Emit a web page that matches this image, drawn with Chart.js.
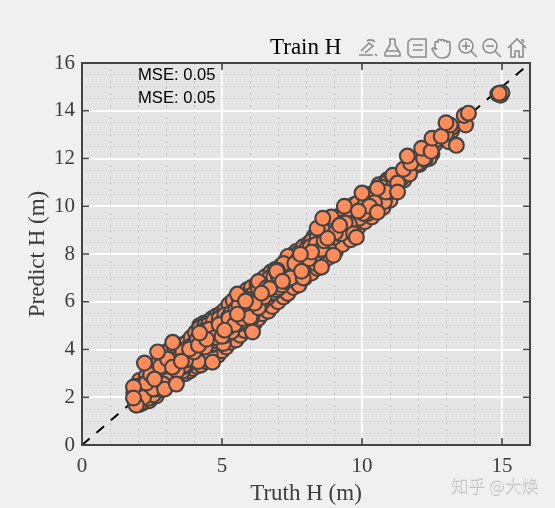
<!DOCTYPE html>
<html>
<head>
<meta charset="utf-8">
<style>
  html, body { margin: 0; padding: 0; background: #f0f0f0; }
  #wrap { position: relative; width: 555px; height: 508px; overflow: hidden; }
  #wrap canvas { position: absolute; left: 0; top: 0; }
  #tools { position: absolute; left: 356px; top: 36px; }
  #mark { position: absolute; left: 451px; top: 472px; font: 17px "Noto Sans CJK SC", sans-serif; font-weight: 300; color: #e2e2e2; text-shadow: 0.6px 0.6px 0 #b4b4b4; white-space: nowrap; }
</style>
</head>
<body>
<div id="wrap">
  <canvas id="chart" width="555" height="508"></canvas>
  <svg id="tools" width="172" height="24" fill="none" stroke="#8c8c8c" stroke-width="1.6">
    <path d="M3 19h14M5 15l8-8 4 3-8 7M11 5c3-2 6-1 8 1M19 18l2 2"/>
    <path d="M33 3h6M34 3v6l-5 8v3h15v-3l-5-8V3M30 15h13"/>
    <path d="M55 3h15v18H55l-3-3V6zM57 9h10M57 14h10"/>
    <path d="M79 13V7a1.5 1.5 0 0 1 3 0V5a1.5 1.5 0 0 1 3 0v0a1.5 1.5 0 0 1 3 0v1a1.5 1.5 0 0 1 3 0v1a1.5 1.5 0 0 1 3 0v7c0 5-3 8-8 8s-6-2-10-9c1-2 3-1 5 0z"/>
    <circle cx="110" cy="10" r="7"/><path d="M115 15l6 6M106 10h8M110 6v8"/>
    <circle cx="134" cy="10" r="7"/><path d="M139 15l6 6M130 10h8"/>
    <path d="M152 12l9-9 9 9M155 10v11h4v-6h4v6h4V10M165 4h2v3"/>
  </svg>
  <div id="mark">知乎 @大焕</div>
</div>
<script src="https://cdn.jsdelivr.net/npm/chart.js@4"></script>
<script>
const titleText = 'Train H';
const xTitle = 'Truth H (m)';
const yTitle = 'Predict H (m)';
const mseLabels = ['MSE: 0.05', 'MSE: 0.05'];
const xMajorTicks = [0, 5, 10, 15];
const yMajorTicks = [0, 2, 4, 6, 8, 10, 12, 14, 16];

const identityX = [0, 16];
const identityY = [0, 16];

// lower layers first, the markers seen whole come last
const truthH = [
  2.05, 2.15, 2.3, 2.4, 2.45, 2.5, 2.6, 2.65, 2.75, 2.8, 2.85, 2.95, 3.0, 3.1, 3.15, 3.25, 3.3, 3.4, 3.45, 3.5,
  3.6, 3.7, 3.75, 3.85, 3.9, 3.95, 4.05, 4.1, 4.2, 4.25, 4.35, 4.4, 4.5, 4.55, 4.65, 4.7, 4.8, 4.85, 4.95, 5.0,
  5.1, 5.15, 5.25, 5.3, 5.4, 5.5, 5.6, 5.65, 5.75, 5.8, 5.9, 6.0, 6.05, 6.15, 6.25, 6.3, 6.4, 6.45, 6.55, 6.65,
  6.75, 6.8, 6.9, 7.0, 7.1, 7.2, 7.3, 7.35, 7.5, 7.55, 7.65, 7.75, 7.9, 7.95, 8.1, 8.2, 8.3, 8.4, 8.5, 8.6,
  8.75, 8.8, 8.95, 9.05, 9.2, 9.3, 9.45, 9.6, 9.7, 9.85, 10.0, 10.1, 10.3, 10.35, 10.6, 10.75, 10.9, 11.0, 11.3, 11.5,
  12.05, 12.35, 12.5, 13.05, 13.2,
  1.85, 1.9, 1.95, 2.0, 2.05, 2.1, 2.15, 2.2, 2.3, 2.35, 2.4, 2.45, 2.5, 2.55, 2.6, 2.65, 2.7, 2.75, 2.8, 2.85,
  2.9, 3.0, 3.05, 3.1, 3.15, 3.2, 3.3, 3.35, 3.4, 3.45, 3.5, 3.55, 3.6, 3.65, 3.7, 3.75, 3.8, 3.85, 3.9, 3.95,
  4.0, 4.05, 4.1, 4.12, 4.18, 4.2, 4.25, 4.3, 4.32, 4.38, 4.4, 4.45, 4.5, 4.52, 4.58, 4.6, 4.65, 4.7, 4.75, 4.8,
  4.85, 4.9, 4.95, 5.0, 5.05, 5.1, 5.15, 5.2, 5.25, 5.3, 5.35, 5.4, 5.45, 5.5, 5.55, 5.6, 5.65, 5.7, 5.75, 5.8,
  5.85, 5.9, 5.95, 6.0, 6.05, 6.1, 6.15, 6.2, 6.25, 6.3, 6.35, 6.4, 6.45, 6.5, 6.55, 6.6, 6.65, 6.7, 6.75, 6.8,
  6.85, 6.9, 6.95, 7.0, 7.05, 7.1, 7.15, 7.2, 7.25, 7.3, 7.35, 7.4, 7.45, 7.5, 7.55, 7.6, 7.65, 7.7, 7.75, 7.8,
  7.9, 8.0, 8.05, 8.1, 8.2, 8.3, 8.35, 8.4, 8.5, 8.6, 8.65, 8.7, 8.8, 8.9, 9.0, 9.1, 9.2, 9.3, 9.4, 9.5,
  9.6, 9.7, 9.8, 9.9, 10.1, 10.2, 10.4, 10.5, 10.65, 10.7, 10.8, 10.9, 11.0, 11.1, 11.2, 11.4, 11.6, 11.9, 12.0, 12.3,
  12.4, 12.6, 13.1, 13.2, 14.85, 14.95, 15.0,
  1.9, 2.2, 2.35, 2.55, 2.75, 3.05, 3.3, 3.65, 3.9, 4.15, 4.38, 4.62, 4.66, 4.85, 5.2, 5.35, 5.7, 5.95, 6.3, 6.6,
  6.85, 7.35, 7.7, 8.15, 8.35, 8.6, 8.9, 9.25, 9.55, 10.15, 10.7, 11.15, 11.7, 12.25, 12.6, 13.0,
  2.3, 2.45, 2.8, 2.9, 3.05, 3.4, 3.6, 3.7, 4.0, 4.3, 4.4, 4.55, 4.75, 4.9, 5.0, 5.2, 5.25, 5.45, 5.6, 5.75,
  5.9, 6.0, 6.3, 6.5, 6.7, 7.0, 7.2, 7.45, 7.6, 7.9, 8.1, 8.35, 8.55, 8.65, 9.05, 9.4, 9.7, 10.05, 10.45, 10.85,
  11.1,
  1.94, 2.23, 2.7, 3.24, 2.95, 3.37, 3.23, 2.59, 3.55, 3.84, 4.16, 4.45, 4.2, 5.09, 6.09, 5.55, 5.55, 6.16, 5.84, 6.41,
  6.98, 6.95, 7.16, 7.84, 8.55, 8.98, 8.2, 7.8, 8.77, 9.8, 8.4, 9.2, 8.6, 9.37, 10.27, 9.87, 10.55, 10.0, 10.55, 11.27,
  11.27, 11.48, 11.74, 11.62, 12.2, 12.13, 12.47, 12.5, 12.83, 13.37, 13.15, 13.0, 13.7, 13.65, 13.8, 14.9,
  1.84, 1.84
];
const predictH = [
  2.7, 1.75, 2.9, 1.85, 3.1, 2.0, 3.3, 2.05, 3.5, 2.3, 3.75, 2.5, 3.9, 2.55, 4.0, 2.7, 4.1, 2.8, 4.15, 2.9,
  4.2, 3.0, 4.3, 3.1, 4.5, 3.2, 4.7, 3.3, 5.0, 3.35, 5.1, 3.5, 5.15, 3.55, 5.3, 3.6, 5.4, 3.75, 5.5, 3.95,
  5.65, 4.1, 5.9, 4.3, 6.05, 4.4, 6.2, 4.6, 6.35, 4.8, 6.5, 4.95, 6.6, 5.1, 6.75, 5.3, 6.9, 5.5, 7.05, 5.6,
  7.25, 5.8, 7.35, 6.0, 7.5, 6.2, 7.75, 6.35, 7.95, 6.6, 8.1, 6.7, 8.3, 7.0, 8.45, 7.2, 8.75, 7.4, 9.0, 7.65,
  9.2, 7.85, 9.4, 8.1, 9.6, 8.4, 9.85, 8.6, 10.05, 9.1, 10.3, 9.35, 10.5, 9.55, 10.9, 9.95, 11.1, 10.25, 11.2, 11.1,
  11.75, 12.15, 12.2, 13.2, 13.15,
  2.2, 1.8, 2.4, 2.1, 1.7, 2.5, 2.0, 2.55, 2.1, 1.95, 2.6, 2.3, 2.75, 2.1, 2.9, 2.35, 3.1, 2.5, 3.05, 2.4,
  2.9, 3.2, 2.6, 3.5, 2.8, 3.4, 3.0, 3.7, 2.95, 3.6, 3.25, 3.85, 3.1, 3.7, 3.3, 4.05, 3.45, 3.95, 3.6, 4.2,
  3.55, 4.25, 3.7, 4.45, 3.75, 4.9, 3.9, 4.4, 4.0, 5.0, 3.85, 4.6, 4.05, 5.05, 3.8, 4.7, 4.2, 5.2, 4.25, 4.85,
  4.35, 5.3, 4.5, 5.1, 4.25, 5.45, 4.6, 5.2, 4.7, 5.5, 4.8, 5.15, 5.0, 5.7, 5.05, 5.4, 5.2, 5.9, 5.2, 5.55,
  5.35, 6.2, 5.5, 6.0, 5.3, 6.3, 5.6, 6.1, 5.75, 6.55, 5.85, 6.3, 6.0, 6.75, 6.1, 6.45, 6.2, 7.0, 6.35, 6.7,
  6.4, 7.15, 6.5, 7.0, 6.6, 7.3, 6.7, 7.05, 6.85, 7.55, 6.95, 7.3, 7.1, 7.7, 7.05, 7.45, 7.2, 8.0, 7.35, 7.7,
  7.5, 8.2, 7.65, 8.0, 8.55, 7.95, 8.3, 8.7, 8.1, 8.8, 8.35, 9.1, 8.4, 9.1, 8.7, 9.5, 8.85, 9.3, 9.0, 9.2,
  9.55, 9.3, 10.1, 9.5, 10.05, 9.7, 10.4, 9.95, 10.3, 10.7, 10.2, 11.0, 10.6, 11.2, 10.85, 11.15, 11.45, 11.7, 11.8, 12.35,
  12.0, 12.6, 12.7, 13.3, 14.7, 14.65, 14.75,
  2.45, 2.0, 2.55, 2.35, 2.9, 2.7, 3.55, 3.35, 3.9, 3.5, 4.8, 4.55, 3.47, 4.95, 5.3, 4.75, 6.0, 5.6, 6.85, 6.6,
  7.05, 7.9, 7.75, 8.3, 7.6, 9.0, 9.55, 8.85, 9.25, 10.5, 10.8, 11.05, 11.35, 11.95, 12.75, 13.05,
  2.6, 2.95, 3.3, 2.55, 3.6, 3.1, 3.9, 3.55, 3.9, 4.75, 4.1, 4.85, 4.5, 5.05, 4.55, 4.9, 5.3, 5.05, 5.85, 5.3,
  6.1, 5.35, 5.75, 6.2, 6.55, 7.1, 7.6, 7.0, 7.6, 7.0, 7.8, 8.4, 8.2, 8.55, 8.9, 9.3, 8.85, 9.7, 10.15, 10.6,
  11.3,
  1.67, 3.43, 3.9, 4.3, 2.34, 2.55, 3.26, 2.76, 3.51, 4.02, 4.18, 4.43, 4.69, 4.81, 4.73, 5.48, 6.32, 5.94, 6.03, 6.36,
  7.32, 7.28, 6.86, 7.28, 7.45, 7.95, 8.08, 7.99, 8.66, 8.7, 9.08, 9.2, 9.5, 10.0, 10.0, 9.8, 9.75, 10.55, 10.75, 10.97,
  10.6, 11.55, 11.8, 12.1, 12.0, 12.43, 12.3, 12.85, 12.93, 12.55, 13.4, 13.5, 13.4, 13.8, 13.9, 14.73,
  2.43, 1.97
];

const scatterPoints = truthH.map((x, i) => ({ x, y: predictH[i] }));
const identityLine = identityX.map((x, i) => ({ x, y: identityY[i] }));

// frame, inward ticks, title and the MSE notes go on top of the library's own axes
const framePlugin = {
  id: 'frame',
  afterDatasetsDraw(chart) {
    const { ctx, chartArea: a, scales: { x, y } } = chart;
    ctx.save();
    ctx.strokeStyle = '#444444';
    ctx.lineWidth = 1.6;
    ctx.beginPath();
    xMajorTicks.forEach((v) => {
      const px = x.getPixelForValue(v);
      ctx.moveTo(px, a.bottom); ctx.lineTo(px, a.bottom - 7);
      ctx.moveTo(px, a.top); ctx.lineTo(px, a.top + 7);
    });
    yMajorTicks.forEach((v) => {
      const py = y.getPixelForValue(v);
      ctx.moveTo(a.left, py); ctx.lineTo(a.left + 7, py);
      ctx.moveTo(a.right, py); ctx.lineTo(a.right - 7, py);
    });
    ctx.stroke();
    ctx.lineWidth = 2;
    ctx.strokeRect(a.left, a.top, a.right - a.left, a.bottom - a.top);
    ctx.fillStyle = '#000000';
    ctx.font = '16.6px "Liberation Sans"';
    ctx.textBaseline = 'middle';
    ctx.fillText(mseLabels[0], x.getPixelForValue(2), y.getPixelForValue(15.5));
    ctx.fillText(mseLabels[1], x.getPixelForValue(2), y.getPixelForValue(14.53));
    ctx.font = '23px "Liberation Serif"';
    ctx.fillText(titleText, 270, 48);
    ctx.restore();
  },
};

const bgPlugin = {
  id: 'plotBg',
  beforeDraw(chart) {
    const { ctx, chartArea: a } = chart;
    ctx.save();
    ctx.fillStyle = '#e5e5e5';
    ctx.fillRect(a.left, a.top, a.right - a.left, a.bottom - a.top);
    ctx.restore();
  },
};

new Chart(document.getElementById('chart').getContext('2d'), {
  type: 'scatter',
  data: {
    datasets: [
      {
        data: scatterPoints,
        backgroundColor: '#ff8c5a',
        borderColor: '#444444',
        borderWidth: 2.2,
        pointRadius: 7.4,
        order: 1,
      },
      {
        type: 'line',
        data: identityLine,
        borderColor: '#000000',
        borderWidth: 2,
        borderDash: [10, 9],
        pointRadius: 0,
        order: 2,
      },
    ],
  },
  options: {
    responsive: false,
    animation: false,
    layout: { padding: { top: 63, right: 25, bottom: 0, left: 0 } },
    plugins: {
      legend: { display: false },
      tooltip: { enabled: false },
    },
    scales: {
      x: {
        min: 0,
        max: 16,
        afterFit: (s) => { s.height = 63; },
        ticks: {
          stepSize: 1,
          autoSkip: false,
          maxRotation: 0,
          padding: 9,
          color: '#3c3c3c',
          font: { family: 'Liberation Serif', size: 21 },
          callback: (v) => (xMajorTicks.includes(v) ? String(v) : ''),
        },
        grid: {
          drawTicks: false,
          color: (c) => (xMajorTicks.includes(c.tick.value) ? '#ffffff' : '#c4c4c4'),
          lineWidth: (c) => (xMajorTicks.includes(c.tick.value) ? 2 : 1),
          tickColor: 'transparent',
        },
        border: { display: false, dash: (c) => (xMajorTicks.includes(c.tick.value) ? [] : [2, 4]) },
        title: {
          display: true,
          text: xTitle,
          color: '#3c3c3c',
          font: { family: 'Liberation Serif', size: 23 },
          padding: { top: 0, bottom: 0 },
        },
      },
      y: {
        min: 0,
        max: 16,
        afterFit: (s) => { s.width = 82; },
        ticks: {
          stepSize: 0.5,
          autoSkip: false,
          padding: 7,
          color: '#3c3c3c',
          font: { family: 'Liberation Serif', size: 21 },
          callback: (v) => (yMajorTicks.includes(v) ? String(v) : ''),
        },
        grid: {
          drawTicks: false,
          color: (c) => (yMajorTicks.includes(c.tick.value) ? '#ffffff' : '#c4c4c4'),
          lineWidth: (c) => (yMajorTicks.includes(c.tick.value) ? 2 : 1),
        },
        border: { display: false, dash: (c) => (yMajorTicks.includes(c.tick.value) ? [] : [1, 3]) },
        title: {
          display: true,
          text: yTitle,
          color: '#3c3c3c',
          font: { family: 'Liberation Serif', size: 23 },
          padding: { top: 24, bottom: 0 },
        },
      },
    },
  },
  plugins: [bgPlugin, framePlugin],
});
</script>
</body>
</html>
